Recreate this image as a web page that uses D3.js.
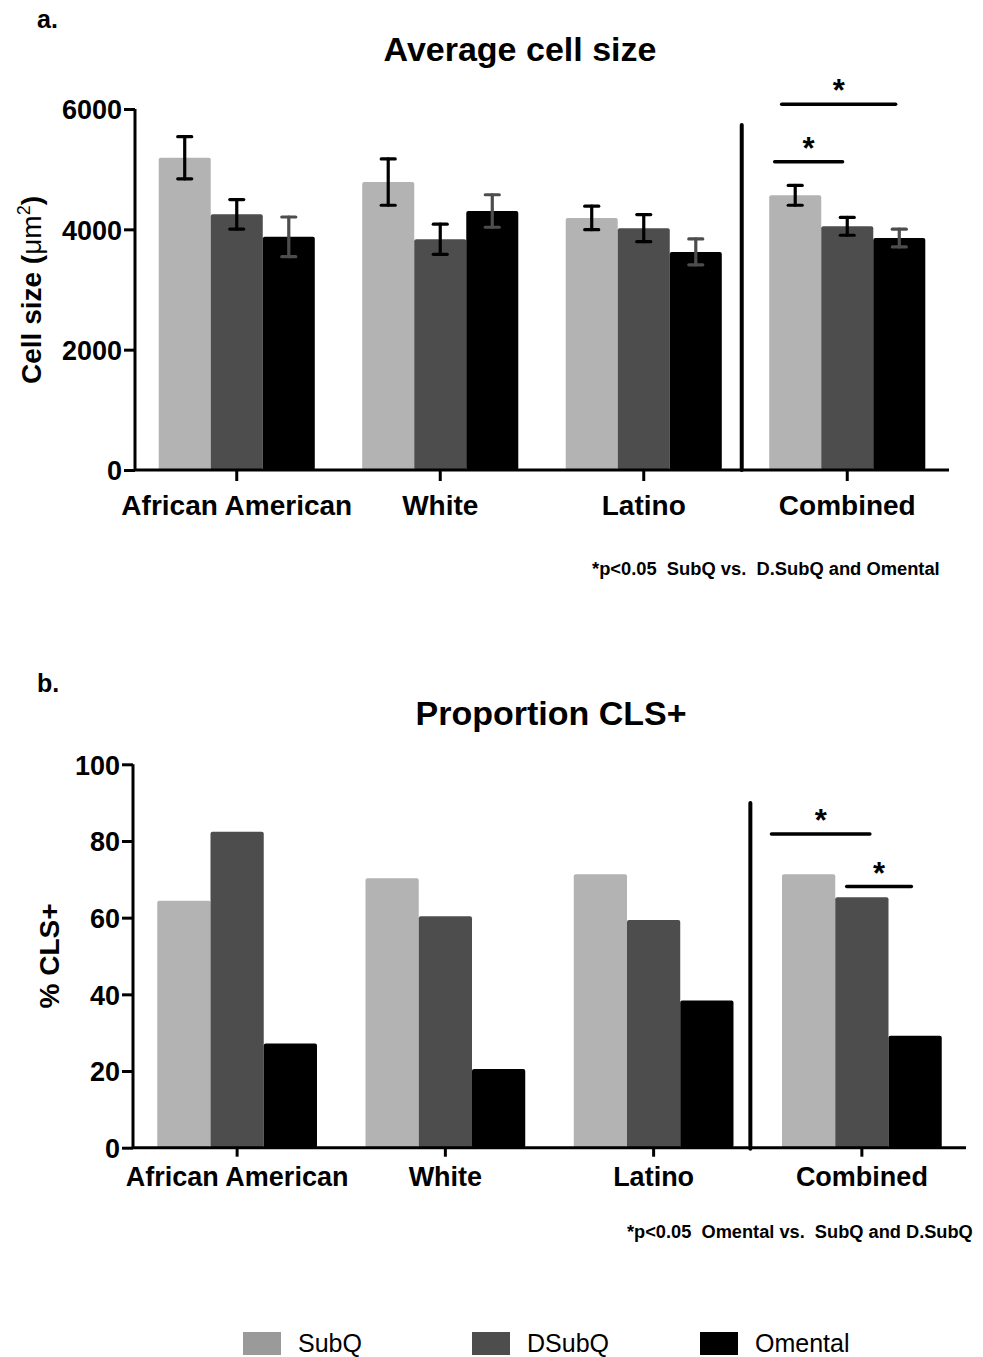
<!DOCTYPE html>
<html>
<head>
<meta charset="utf-8">
<script src="https://cdn.jsdelivr.net/npm/d3@7"></script>
<style>
  html, body { margin: 0; padding: 0; background: #fff; }
  svg text { font-family: "Liberation Sans", Arial, Helvetica, sans-serif; }
</style>
</head>
<body>
<svg id="chart" width="983" height="1357"></svg>
<script>
// ---------- DATA ----------
const groups = ["African American", "White", "Latino", "Combined"];
const seriesNames = ["SubQ", "DSubQ", "Omental"];
const seriesColors = ["#b3b3b3", "#4d4d4d", "#000000"];
const legendColors = ["#9a9a9a", "#4d4d4d", "#000000"];
const errColors = ["#000000", "#000000", "#4d4d4d"];

// Panel a: average cell size (um^2), mean and SEM
const cellSubQ    = [5190, 4785, 4190, 4565];
const cellDSubQ   = [4250, 3835, 4020, 4050];
const cellOmental = [3875, 4305, 3625, 3855];
const errSubQ     = [350, 385, 195, 165];
const errDSubQ    = [245, 250, 225, 148];
const errOmental  = [330, 270, 215, 148];
const cellTicks   = [0, 2000, 4000, 6000];

// Panel b: proportion CLS+ (%)
const clsSubQ    = [64.4, 70.3, 71.3, 71.3];
const clsDSubQ   = [82.4, 60.4, 59.4, 65.3];
const clsOmental = [27.2, 20.5, 38.4, 29.2];
const clsTicks   = [0, 20, 40, 60, 80, 100];

// significance annotations (within "Combined" group): start/end as fraction of group width, y value
const sigA = [
  { x0: 0.08, x1: 0.81, y: 6080 },
  { x0: 0.035, x1: 0.47, y: 5125 }
];
const sigB = [
  { x0: -0.066, x1: 0.55, y: 81.8 },
  { x0: 0.405, x1: 0.81, y: 68.1 }
];

const footA = "*p<0.05  SubQ vs.  D.SubQ and Omental";
const footB = "*p<0.05  Omental vs.  SubQ and D.SubQ";

// ---------- DRAW ----------
const svg = d3.select("#chart");

function panel(opts) {
  const g = svg.append("g");
  const vals = [opts.s1, opts.s2, opts.s3];
  const errs = opts.errs;

  const x0 = d3.scaleBand().domain(groups).range(opts.xRange)
    .paddingInner(0.233).paddingOuter(0.1165);
  const x1 = d3.scaleBand().domain(seriesNames).range([0, x0.bandwidth()]).padding(0);
  const y = d3.scaleLinear().domain(opts.yDomain).range(opts.yRange);

  // bars
  seriesNames.forEach((s, si) => {
    g.selectAll(null).data(groups).enter().append("rect")
      .attr("x", d => x0(d) + x1(s))
      .attr("y", (d, i) => y(vals[si][i]))
      .attr("width", x1.bandwidth())
      .attr("height", (d, i) => y(0) - y(vals[si][i]))
      .attr("rx", 2)
      .attr("fill", seriesColors[si]);
  });

  // error bars
  if (errs) {
    seriesNames.forEach((s, si) => {
      groups.forEach((gname, i) => {
        const cx = x0(gname) + x1(s) + x1.bandwidth() / 2;
        const v = vals[si][i], e = errs[si][i];
        const col = errColors[si];
        const eg = g.append("g").attr("stroke", col).attr("stroke-width", 3.2).attr("stroke-linecap", "round");
        eg.append("line").attr("x1", cx).attr("x2", cx).attr("y1", y(v + e)).attr("y2", y(v - e));
        eg.append("line").attr("x1", cx - 7).attr("x2", cx + 7).attr("y1", y(v + e)).attr("y2", y(v + e));
        eg.append("line").attr("x1", cx - 7).attr("x2", cx + 7).attr("y1", y(v - e)).attr("y2", y(v - e));
      });
    });
  }

  // y axis
  const ya = g.append("g").attr("transform", `translate(${opts.xRange[0]},0)`)
    .call(d3.axisLeft(y).tickValues(opts.ticks).tickSize(11).tickPadding(2).tickFormat(d3.format("d")));
  ya.selectAll("path, line").attr("stroke", "#000").attr("stroke-width", 3);
  ya.select("path").attr("d", `M0,${opts.yRange[1]}V${opts.yRange[0]}`);
  ya.selectAll("text").attr("font-size", 27).attr("font-weight", "bold").attr("fill", "#000")
    .attr("dy", "0.36em");

  // x axis
  const xa = g.append("g").attr("transform", `translate(0,${y(0)})`)
    .call(d3.axisBottom(x0).tickSize(opts.xTick).tickPadding(opts.xPad));
  xa.selectAll("path, line").attr("stroke", "#000").attr("stroke-width", 3);
  xa.select("path").attr("d", `M${opts.xRange[0]},0H${opts.xRange[1]}`);
  xa.selectAll("text").attr("font-size", opts.xFont).attr("font-weight", "bold").attr("fill", "#000")
    .attr("dy", "0.71em");

  // separator before Combined
  const sepX = x0("Combined") - x0.step() * opts.sepFrac;
  g.append("line").attr("x1", sepX).attr("x2", sepX)
    .attr("y1", opts.sepTop).attr("y2", y(0) + opts.sepBelow)
    .attr("stroke", "#000").attr("stroke-width", 4).attr("stroke-linecap", "round");

  // significance lines
  opts.sig.forEach(sg => {
    const gx = x0("Combined"), w = x0.bandwidth();
    const a = gx + sg.x0 * w, b = gx + sg.x1 * w, yy = y(sg.y);
    g.append("line").attr("x1", a).attr("x2", b).attr("y1", yy).attr("y2", yy)
      .attr("stroke", "#000").attr("stroke-width", 3.5).attr("stroke-linecap", "round");
    g.append("text").attr("x", (a + b) / 2).attr("y", yy - 3)
      .attr("text-anchor", "middle").attr("font-size", 31).attr("font-weight", "bold").text("*");
  });

  // title, panel letter
  g.append("text").attr("x", opts.titleX).attr("y", opts.titleY).attr("text-anchor", "middle")
    .attr("font-size", 34).attr("font-weight", "bold").text(opts.title);
  g.append("text").attr("x", 37).attr("y", opts.letterY)
    .attr("font-size", 25).attr("font-weight", "bold").text(opts.letter);

  // y label
  opts.ylabel(g.append("text").attr("transform", `translate(${opts.ylabX},${opts.ylabY}) rotate(-90)`)
    .attr("text-anchor", "middle").attr("font-size", 28).attr("font-weight", "bold"));

  // footnote (horizontally condensed to the target width)
  const ft = g.append("text").attr("x", 0).attr("y", 0)
    .attr("font-size", 19).attr("font-weight", "bold")
    .attr("xml:space", "preserve").style("white-space", "pre")
    .text(opts.foot);
  const natural = ft.node().getComputedTextLength();
  const sx = opts.footW / natural;
  ft.attr("transform", `translate(${opts.footX},${opts.footY}) scale(${sx},1)`);
}

panel({
  s1: cellSubQ, s2: cellDSubQ, s3: cellOmental,
  errs: [errSubQ, errDSubQ, errOmental],
  xRange: [135, 949], yDomain: [0, 6000], yRange: [470, 109], ticks: cellTicks,
  xTick: 11, xPad: 14, xFont: 28,
  sepFrac: 0.135, sepTop: 125, sepBelow: 0,
  sig: sigA,
  title: "Average cell size", titleX: 520, titleY: 61,
  letter: "a.", letterY: 28,
  ylabX: 41, ylabY: 290,
  ylabel: t => {
    t.append("tspan").text("Cell size (");
    t.append("tspan").attr("font-weight", "normal").text("\u03bcm");
    t.append("tspan").attr("font-weight", "normal").attr("font-size", 18).attr("dy", -11).text("2");
    t.append("tspan").attr("dy", 11).text(")");
  },
  foot: footA, footX: 592, footY: 575, footW: 348
});

panel({
  s1: clsSubQ, s2: clsDSubQ, s3: clsOmental,
  errs: null,
  xRange: [133, 966], yDomain: [0, 100], yRange: [1147.7, 764.3], ticks: clsTicks,
  xTick: 9, xPad: 10, xFont: 27,
  sepFrac: 0.152, sepTop: 803, sepBelow: 1,
  sig: sigB,
  title: "Proportion CLS+", titleX: 551, titleY: 725,
  letter: "b.", letterY: 692,
  ylabX: 59, ylabY: 956,
  ylabel: t => t.text("% CLS+"),
  foot: footB, footX: 627, footY: 1238, footW: 346
});

// legend
const legX = [243, 472, 700];
const leg = svg.append("g");
seriesNames.forEach((s, i) => {
  leg.append("rect").attr("x", legX[i]).attr("y", 1332).attr("width", 38).attr("height", 23)
    .attr("fill", legendColors[i]);
  leg.append("text").attr("x", legX[i] + 55).attr("y", 1352)
    .attr("font-size", 25).attr("fill", "#000").text(s);
});
</script>
</body>
</html>
